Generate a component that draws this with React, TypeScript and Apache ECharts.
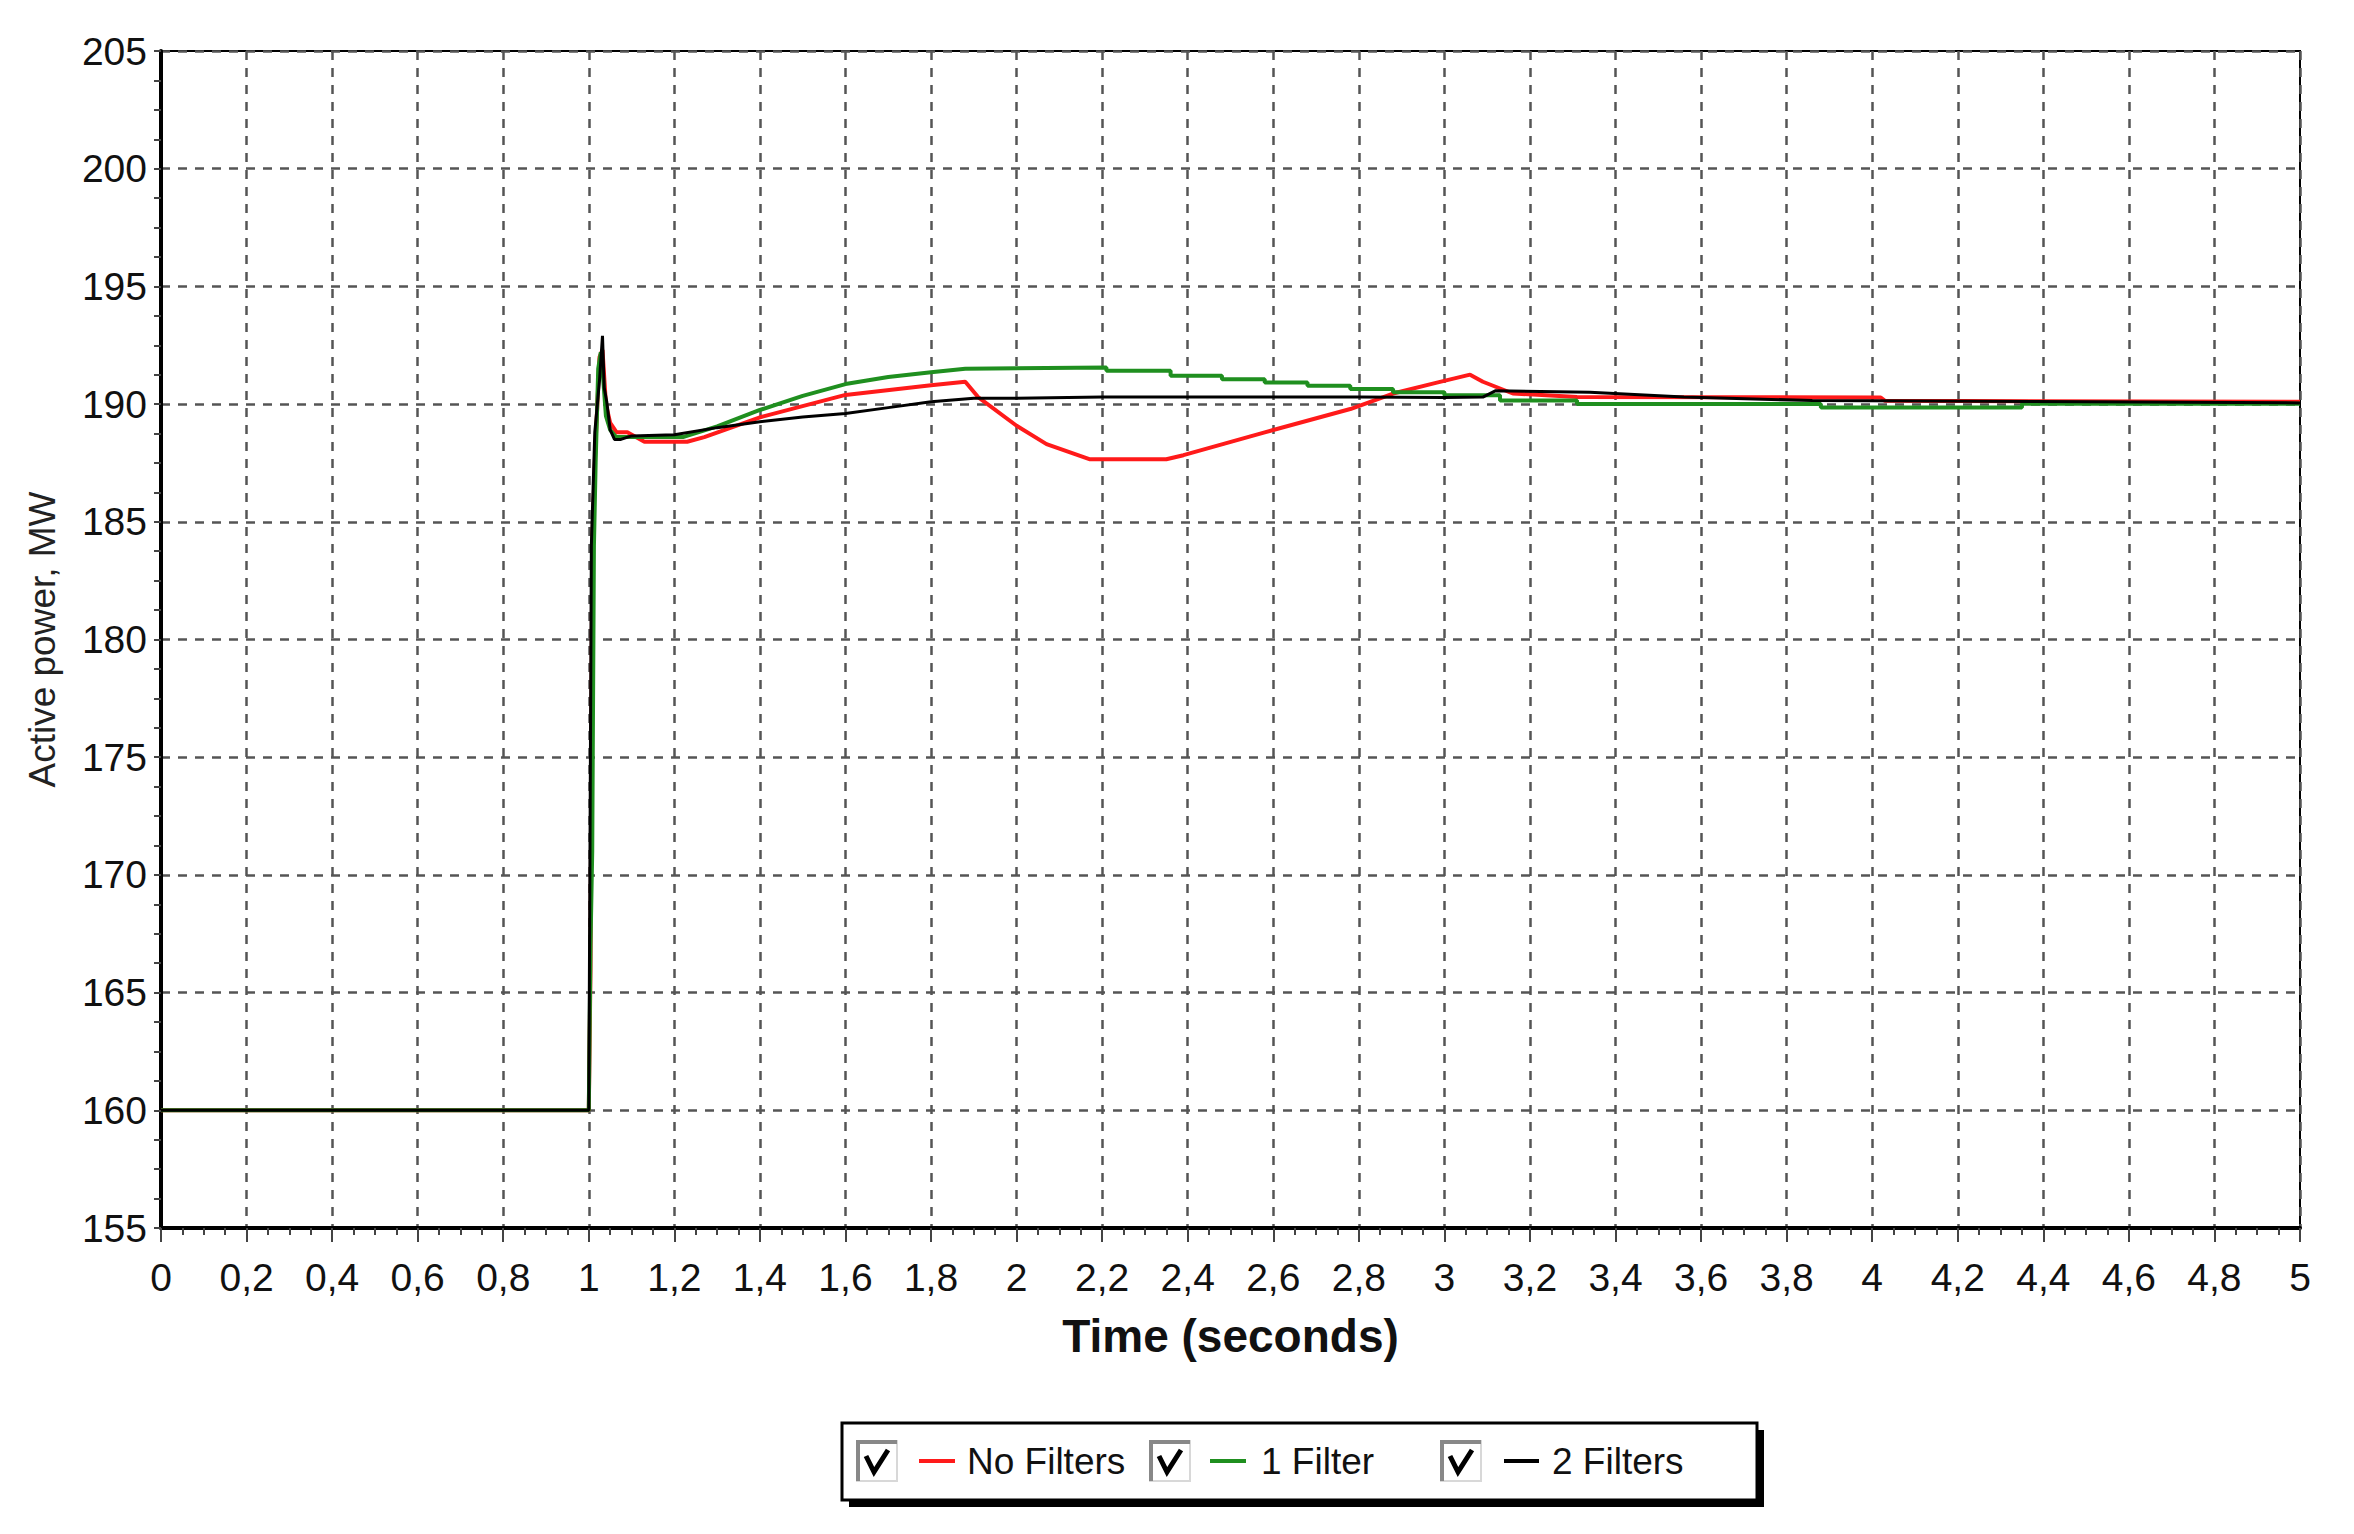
import React, { useEffect, useRef } from "react";
import * as echarts from "echarts";

const FONT = "'Liberation Sans', Arial, sans-serif";

const seriesNames = ["No Filters", "1 Filter", "2 Filters"];

const xTickValues = [0, 0.2, 0.4, 0.6, 0.8, 1, 1.2, 1.4, 1.6, 1.8, 2, 2.2, 2.4, 2.6, 2.8, 3, 3.2, 3.4, 3.6, 3.8, 4, 4.2, 4.4, 4.6, 4.8, 5];

// [time s, active power MW]
const noFilters: [number, number][] = [
  [0, 160], [1.0, 160], [1.004, 166], [1.008, 184], [1.015, 188], [1.025, 192], [1.032, 192.3],
  [1.04, 190], [1.05, 189.2], [1.065, 188.8], [1.09, 188.8], [1.13, 188.4], [1.23, 188.4],
  [1.27, 188.6], [1.4, 189.44], [1.6, 190.39], [1.8, 190.8], [1.88, 190.95], [1.91, 190.3],
  [2.0, 189.08], [2.07, 188.3], [2.17, 187.66], [2.35, 187.66], [2.39, 187.83], [2.58, 188.8],
  [2.78, 189.79], [2.88, 190.45], [2.98, 190.9], [3.06, 191.25], [3.09, 190.95], [3.16, 190.45],
  [3.31, 190.3], [4.02, 190.28], [4.03, 190.14], [5, 190.1],
];

const oneFilter: [number, number][] = [
  [0, 160], [1.0, 160], [1.004, 167], [1.008, 171], [1.012, 184], [1.016, 187.5], [1.022, 191.5],
  [1.028, 192.2], [1.034, 191], [1.04, 189.5], [1.05, 188.9], [1.064, 188.6], [1.22, 188.6],
  [1.3, 189.05], [1.4, 189.75], [1.5, 190.35], [1.6, 190.85], [1.7, 191.15], [1.8, 191.35],
  [1.88, 191.5], [2.21, 191.55], [2.21, 191.42], [2.36, 191.42], [2.36, 191.2], [2.48, 191.2],
  [2.48, 191.06], [2.58, 191.06], [2.58, 190.92], [2.68, 190.92], [2.68, 190.78], [2.78, 190.78],
  [2.78, 190.64], [2.88, 190.64], [2.88, 190.5], [3.0, 190.5], [3.0, 190.38], [3.13, 190.38],
  [3.13, 190.15], [3.31, 190.15], [3.31, 190.0], [3.88, 190.0], [3.88, 189.86], [4.35, 189.86],
  [4.35, 190.02], [5, 190.02],
];

const twoFilters: [number, number][] = [
  [0, 160], [1.0, 160], [1.006, 184], [1.014, 188.8], [1.025, 191], [1.032, 192.9], [1.036, 190.7],
  [1.042, 190.1], [1.05, 188.9], [1.06, 188.5], [1.075, 188.5], [1.1, 188.65], [1.2, 188.7],
  [1.3, 189.0], [1.4, 189.25], [1.5, 189.45], [1.6, 189.6], [1.7, 189.85], [1.8, 190.1],
  [1.9, 190.25], [2.0, 190.25], [2.2, 190.3], [2.5, 190.3], [2.8, 190.3], [3.0, 190.28],
  [3.09, 190.3], [3.12, 190.57], [3.34, 190.5], [3.56, 190.3], [3.86, 190.15], [4.5, 190.1],
  [5, 190.05],
];

const seriesData = [noFilters, oneFilter, twoFilters];
const seriesColors = ["#ff1a1a", "#1f8f1f", "#000000"];
const seriesWidths = [4, 4, 3];

function fmtX(v: number) {
  const r = Math.round(v * 10) / 10;
  return String(r).replace(".", ",");
}

function legendGraphics() {
  const els: any[] = [];
  const bx = 842, by = 1423, bw = 915, bh = 77;
  els.push({ type: "rect", z: 100, shape: { x: bx + 7, y: by + 7, width: bw, height: bh }, style: { fill: "#000" } });
  els.push({ type: "rect", z: 101, shape: { x: bx, y: by, width: bw, height: bh }, style: { fill: "#fff", stroke: "#000", lineWidth: 3 } });
  const items = [
    { cb: 857, line: [919, 955], tx: 967 },
    { cb: 1150, line: [1210, 1246], tx: 1261 },
    { cb: 1441, line: [1504, 1539], tx: 1552 },
  ];
  const cy = 1461;
  items.forEach((it, i) => {
    const s = 40;
    const x0 = it.cb, y0 = cy - 20;
    els.push({ type: "rect", z: 102, shape: { x: x0, y: y0, width: s, height: s }, style: { fill: "#fff", stroke: "#d8d8d8", lineWidth: 2 } });
    els.push({ type: "polyline", z: 103, shape: { points: [[x0 + 1, y0 + s], [x0 + 1, y0 + 1], [x0 + s, y0 + 1]] }, style: { stroke: "#888", lineWidth: 4, fill: null } });
    els.push({ type: "polyline", z: 104, shape: { points: [[x0 + 9, y0 + 15], [x0 + 17, y0 + 31], [x0 + 31, y0 + 9]] }, style: { stroke: "#000", lineWidth: 5, fill: null } });
    els.push({ type: "line", z: 103, shape: { x1: it.line[0], y1: cy, x2: it.line[1], y2: cy }, style: { stroke: seriesColors[i], lineWidth: 4 } });
    els.push({ type: "text", z: 103, x: it.tx, y: cy, style: { text: seriesNames[i], fontSize: 37, fontFamily: FONT, fill: "#111", verticalAlign: "middle", textVerticalAlign: "middle", align: "left" } });
  });
  return els;
}

export default function App() {
  const ref = useRef<HTMLDivElement>(null);
  useEffect(() => {
    document.body.style.margin = "0";
    document.body.style.overflow = "hidden";
    const chart = echarts.init(ref.current!, null, { renderer: "svg" });
    chart.setOption({
      animation: false,
      backgroundColor: "#fff",
      grid: { left: 161, right: 54, top: 51, bottom: 306, show: true, borderColor: "#000", borderWidth: 2, backgroundColor: "transparent" },
      xAxis: {
        type: "value", min: 0, max: 5, interval: 0.2,
        name: "Time (seconds)", nameLocation: "middle", nameGap: 85,
        nameTextStyle: { fontSize: 46, fontWeight: "bold", color: "#111", fontFamily: FONT },
        axisLine: { show: true, onZero: false, lineStyle: { color: "#000", width: 4 } },
        axisTick: { show: true, length: 14, lineStyle: { color: "#444", width: 2 } },
        minorTick: { show: true, splitNumber: 4, length: 7, lineStyle: { color: "#444", width: 2 } },
        splitLine: { show: true, lineStyle: { color: "#555", width: 2.5, type: [9, 8] } },
        axisLabel: { fontSize: 39, color: "#111", fontFamily: FONT, margin: 30, formatter: (v: number) => fmtX(v), showMinLabel: true, showMaxLabel: true },
      },
      yAxis: {
        type: "value", min: 155, max: 205, interval: 5,
        name: "Active power, MW", nameLocation: "middle", nameGap: 100,
        nameTextStyle: { fontSize: 37, color: "#222", fontFamily: FONT },
        axisLine: { show: true, onZero: false, lineStyle: { color: "#000", width: 4 } },
        axisTick: { show: true, length: 7, lineStyle: { color: "#444", width: 2 } },
        minorTick: { show: true, splitNumber: 4, length: 7, lineStyle: { color: "#444", width: 2 } },
        splitLine: { show: true, lineStyle: { color: "#555", width: 2.5, type: [9, 8] } },
        axisLabel: { fontSize: 39, color: "#111", fontFamily: FONT, margin: 14 },
      },
      series: seriesData.map((d, i) => ({
        name: seriesNames[i],
        type: "line",
        data: d,
        showSymbol: false,
        symbol: "none",
        lineStyle: { color: seriesColors[i], width: seriesWidths[i] },
        itemStyle: { color: seriesColors[i] },
        z: 3 + i,
      })),
      graphic: legendGraphics(),
    });
    return () => chart.dispose();
  }, []);
  return <div ref={ref} style={{ position: "absolute", left: 0, top: 0, width: 2354, height: 1534 }} />;
}
